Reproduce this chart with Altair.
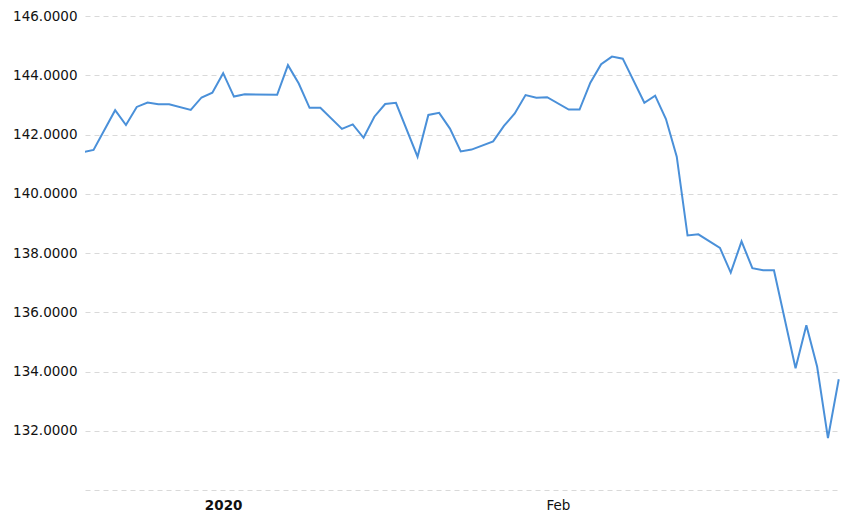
import altair as alt
import pandas as pd

dates = [
    "2019-12-19", "2019-12-20", "2019-12-22", "2019-12-23", "2019-12-24",
    "2019-12-25", "2019-12-26", "2019-12-27", "2019-12-29", "2019-12-30",
    "2019-12-31", "2020-01-01", "2020-01-02", "2020-01-03", "2020-01-06",
    "2020-01-07", "2020-01-08", "2020-01-09", "2020-01-10", "2020-01-12",
    "2020-01-13", "2020-01-14", "2020-01-15", "2020-01-16", "2020-01-17",
    "2020-01-19", "2020-01-20", "2020-01-21", "2020-01-22", "2020-01-23",
    "2020-01-24", "2020-01-26", "2020-01-27", "2020-01-28", "2020-01-29",
    "2020-01-30", "2020-01-31", "2020-02-02", "2020-02-03", "2020-02-04",
    "2020-02-05", "2020-02-06", "2020-02-07", "2020-02-09", "2020-02-10",
    "2020-02-11", "2020-02-12", "2020-02-13", "2020-02-14", "2020-02-16",
    "2020-02-17", "2020-02-18", "2020-02-19", "2020-02-20", "2020-02-21",
    "2020-02-23", "2020-02-24", "2020-02-25", "2020-02-26", "2020-02-27",
]
values = [
    141.40, 141.48, 142.82, 142.32, 142.93,
    143.08, 143.02, 143.02, 142.83, 143.25,
    143.41, 144.07, 143.28, 143.36, 143.34,
    144.34, 143.72, 142.90, 142.90, 142.19,
    142.34, 141.89, 142.60, 143.03, 143.07,
    141.25, 142.66, 142.73, 142.20, 141.43,
    141.49, 141.77, 142.29, 142.71, 143.33,
    143.24, 143.26, 142.84, 142.84, 143.75,
    144.37, 144.63, 144.56, 143.07, 143.31,
    142.52, 141.25, 138.59, 138.63, 138.17,
    137.34, 138.39, 137.49, 137.42, 137.42,
    134.11, 135.56, 134.16, 131.75, 133.74,
]
y_ticks = [130, 132, 134, 136, 138, 140, 142, 144, 146]

df = pd.DataFrame({"date": dates, "value": values})

FONT = "Verdana, DejaVu Sans"

x_domain = [
    alt.DateTime(year=2019, month=12, date=19, hours=5, utc=True),
    alt.DateTime(year=2020, month=2, date=27, hours=5, utc=True),
]
x_ticks = [
    alt.DateTime(year=2020, month=1, date=1, utc=True),
    alt.DateTime(year=2020, month=2, date=1, utc=True),
]

chart = (
    alt.Chart(df)
    .mark_line(color="#4a90d9", strokeWidth=2, clip=True)
    .encode(
        x=alt.X(
            "date:T",
            scale=alt.Scale(type="utc", domain=x_domain),
            axis=alt.Axis(
                title=None,
                values=x_ticks,
                labelExpr="utcmonth(datum.value) == 0 ? '2020' : utcFormat(datum.value, '%b')",
                labelFontWeight={
                    "condition": {"test": "utcmonth(datum.value) == 0", "value": "bold"},
                    "value": "normal",
                },
                grid=False,
                domain=False,
                ticks=False,
                labelPadding=8,
                labelFont=FONT,
                labelFontSize=13.5,
                labelColor="#111111",
            ),
        ),
        y=alt.Y(
            "value:Q",
            scale=alt.Scale(domain=[130, 146], nice=False, zero=False),
            axis=alt.Axis(
                title=None,
                values=y_ticks,
                labelExpr="datum.value == 130 ? '' : format(datum.value, '.4f')",
                grid=True,
                gridColor="#d9d9d9",
                gridDash=[5, 4],
                gridWidth=1,
                domain=False,
                ticks=False,
                labelPadding=8,
                labelFont=FONT,
                labelFontSize=13.5,
                labelColor="#111111",
            ),
        ),
    )
    .properties(
        width=756,
        height=474,
        autosize="none",
        padding={"left": 77, "top": 8, "right": 7, "bottom": 22},
        background="white",
    )
    .configure_view(stroke="transparent")
)

chart.save("out.html", embed_options={"renderer": "svg", "actions": False})
